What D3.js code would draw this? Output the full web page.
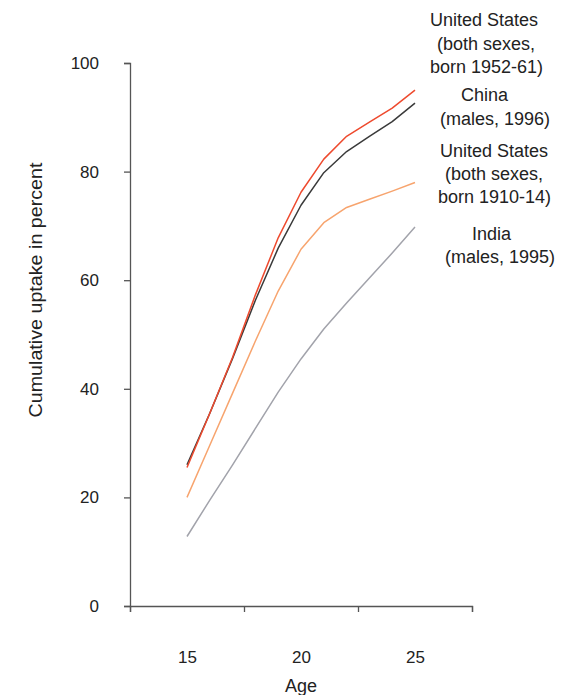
<!DOCTYPE html>
<html>
<head>
<meta charset="utf-8">
<script src="https://cdn.jsdelivr.net/npm/d3@7"></script>
<style>
	body { margin: 0; background: white; }
	text { font-family: "Liberation Sans", Arial, Helvetica, sans-serif; fill: #222; }
	.axis path, .axis line { stroke: #555; stroke-width: 1.3px; }
</style>
</head>
<body>
<svg id="chart" width="564" height="695"></svg>
<script>
const ages = [15, 16, 17, 18, 19, 20, 21, 22, 23, 24, 25];

// cumulative uptake in percent
const us_1952_61 = [25.5, 35.5, 45.8, 57.3, 67.8, 76.2, 82.3, 86.5, 89.1, 91.7, 95.0];
const china_1996 = [26.0, 35.5, 45.6, 56.3, 65.9, 73.8, 79.8, 83.7, 86.5, 89.2, 92.6];
const us_1910_14 = [20.0, 29.6, 39.2, 48.8, 58.0, 65.7, 70.6, 73.4, 74.9, 76.4, 78.0];
const india_1995 = [12.8, 19.5, 26.0, 32.7, 39.4, 45.5, 51.0, 55.8, 60.4, 65.0, 69.8];

const series_names = ["us_1952_61", "china_1996", "us_1910_14", "india_1995"];
const series_colors = ["#ee4a2e", "#3a3a3a", "#f7a46e", "#a2a3ab"];

const y_ticks = [0, 20, 40, 60, 80, 100];
const x_tick_marks = [12.5, 17.5, 22.5, 27.5];
const x_tick_labels = [15, 20, 25];

// label lines next to the line ends
const label_lines = [
	"United States", "(both sexes,", "born 1952-61)",
	"China", "(males, 1996)",
	"United States", "(both sexes,", "born 1910-14)",
	"India", "(males, 1995)"
];
const label_x = [430, 437, 430, 461, 440, 440, 445, 438, 472, 445];
const label_y = [26, 50, 73, 101, 125, 157, 180, 203, 240, 263];

const svg = d3.select("#chart");

const x = d3.scaleLinear().domain([12.5, 27.5]).range([130, 472]);
const y = d3.scaleLinear().domain([0, 100]).range([606, 63]);

// y axis
const y_axis = svg.append("g")
	.attr("class", "axis")
	.attr("transform", "translate(" + x(12.5) + ",0)")
	.call(d3.axisLeft(y)
		.tickValues(y_ticks)
		.tickSize(6)
		.tickPadding(25));
y_axis.selectAll("text")
	.style("font-size", "17px")
	.style("font-family", "'Liberation Sans', Arial, sans-serif")
	.attr("fill", "#222");

// x axis: ticks between the labels
svg.append("g")
	.attr("class", "axis")
	.attr("transform", "translate(0," + y(0) + ")")
	.call(d3.axisBottom(x)
		.tickValues(x_tick_marks)
		.tickFormat("")
		.tickSize(6));

const x_labels = svg.append("g")
	.attr("transform", "translate(0," + y(0) + ")")
	.call(d3.axisBottom(x)
		.tickValues(x_tick_labels)
		.tickSize(0)
		.tickPadding(45));
x_labels.select(".domain").remove();
x_labels.selectAll("text")
	.style("font-size", "17px")
	.style("font-family", "'Liberation Sans', Arial, sans-serif")
	.attr("fill", "#222");

// axis titles
svg.append("text")
	.attr("x", x(20))
	.attr("y", 692)
	.attr("text-anchor", "middle")
	.style("font-size", "18px")
	.text("Age");

svg.append("text")
	.attr("transform", "translate(42,290) rotate(-90)")
	.attr("text-anchor", "middle")
	.attr("textLength", 255)
	.attr("lengthAdjust", "spacingAndGlyphs")
	.style("font-size", "18px")
	.text("Cumulative uptake in percent");

// lines, drawn bottom first so the red ends up on top
const line = d3.line()
	.x((d, i) => x(ages[i]))
	.y(d => y(d));

const all_series = [us_1952_61, china_1996, us_1910_14, india_1995];

svg.append("g").selectAll("path")
	.data(all_series.map((values, i) => ({name: series_names[i], color: series_colors[i], values: values})).reverse())
	.enter()
	.append("path")
	.attr("d", d => line(d.values))
	.attr("fill", "none")
	.attr("stroke", d => d.color)
	.attr("stroke-width", 1.5)
	.attr("stroke-linejoin", "round");

// labels
svg.append("g").selectAll("text")
	.data(label_lines)
	.enter()
	.append("text")
	.attr("x", (d, i) => label_x[i])
	.attr("y", (d, i) => label_y[i])
	.style("font-size", "18px")
	.text(d => d);
</script>
</body>
</html>
